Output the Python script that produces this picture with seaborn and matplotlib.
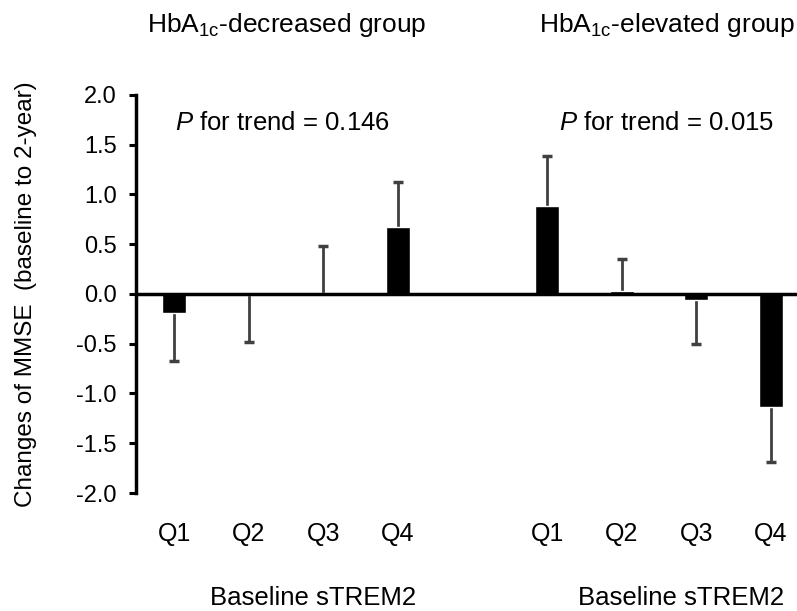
"""
Changes of MMSE by baseline sTREM2 quartile, HbA1c-decreased vs elevated groups.
"""

import numpy as np
import pandas as pd
import matplotlib
matplotlib.use("Agg")
import matplotlib.pyplot as plt
import matplotlib.transforms as mtransforms
import seaborn as sns

sns.set_theme(style="white")
plt.rcParams.update({
    "font.family": ["Liberation Sans", "DejaVu Sans"],
    "mathtext.fontset": "custom",
    "mathtext.rm": "Liberation Sans",
    "mathtext.it": "Liberation Sans:italic",
    "text.color": "black",
    "axes.labelcolor": "black",
    "xtick.color": "black",
    "ytick.color": "black",
})

# dados
grupos = ["HbA$_\\mathregular{1c}$-decreased group", "HbA$_\\mathregular{1c}$-elevated group"]
quartis = ["Q1", "Q2", "Q3", "Q4"]
media_dec = [-0.19, -0.01, 0.01, 0.67]
erro_dec = [0.48, 0.47, 0.47, 0.45]
media_elev = [0.88, 0.03, -0.06, -1.14]
erro_elev = [0.50, 0.32, 0.44, 0.55]
p_trend = ["0.146", "0.015"]
yticks = [-2.0, -1.5, -1.0, -0.5, 0.0, 0.5, 1.0, 1.5, 2.0]

# posições: 4 barras, um espaço vazio, 4 barras
pos_dec = np.arange(4)
pos_elev = np.arange(4) + 5

df = pd.DataFrame({
    "pos": np.concatenate([pos_dec, pos_elev]),
    "media": media_dec + media_elev,
    "erro": erro_dec + erro_elev,
    "quartil": quartis * 2,
})

fig = plt.figure(figsize=(7.97, 6.11), dpi=100)
ax = fig.add_axes([0.171, 0.193, 0.829, 0.652])

sns.barplot(data=df, x="pos", y="media", native_scale=True, color="black",
            width=0.32, saturation=1, errorbar=None, ax=ax, zorder=2)

# barra de erro de um lado só (para longe do zero), com tampa só na ponta
ponta = df["media"] + np.sign(df["media"]) * df["erro"]
ax.vlines(df["pos"], df["media"], ponta, color="#404040", lw=2, zorder=1)
ax.plot(df["pos"], ponta, ls="none", marker="_", ms=7, mew=2.5,
        color="#404040", zorder=1)

ax.axhline(0, color="black", lw=2.5, zorder=3)

ax.set_xlim(-0.51, 8.35)
ax.set_ylim(-2.0, 2.0)
ax.set_yticks(yticks)
ax.set_yticklabels([f"{v:.1f}" for v in yticks], fontsize=17)
ax.set_xticks(df["pos"])
ax.set_xticklabels(df["quartil"], fontsize=18)
ax.tick_params(axis="x", length=0, pad=21)
ax.tick_params(axis="y", direction="out", length=5, width=2.2, left=True, pad=9)

for lado in ["top", "right", "bottom"]:
    ax.spines[lado].set_visible(False)
ax.spines["left"].set_color("black")
ax.spines["left"].set_linewidth(2.5)

ax.set_xlabel("")
ax.set_ylabel("Changes of MMSE  (baseline to 2-year)", fontsize=17.5)
ax.yaxis.set_label_coords(-0.15, 0.5)

trans = mtransforms.blended_transform_factory(ax.transData, ax.transAxes)
centros = [pos_dec.mean(), pos_elev.mean()]
desloc_titulo = [0.01, 0.1]
desloc_p = [-0.05, 0.1]
desloc_base = [0.36, 0.30]
for i, (c, g, p) in enumerate(zip(centros, grupos, p_trend)):
    ax.text(c + desloc_titulo[i], 1.176, g, transform=trans,
            ha="center", va="center", fontsize=19)
    ax.text(c + desloc_p[i], 1.72, "$\\mathit{P}$ for trend = " + p,
            ha="center", va="center", fontsize=18.5)
    ax.text(c + desloc_base[i], -0.264, "Baseline sTREM2", transform=trans,
            ha="center", va="center", fontsize=18.5)

fig.savefig("out.png", dpi=100)
